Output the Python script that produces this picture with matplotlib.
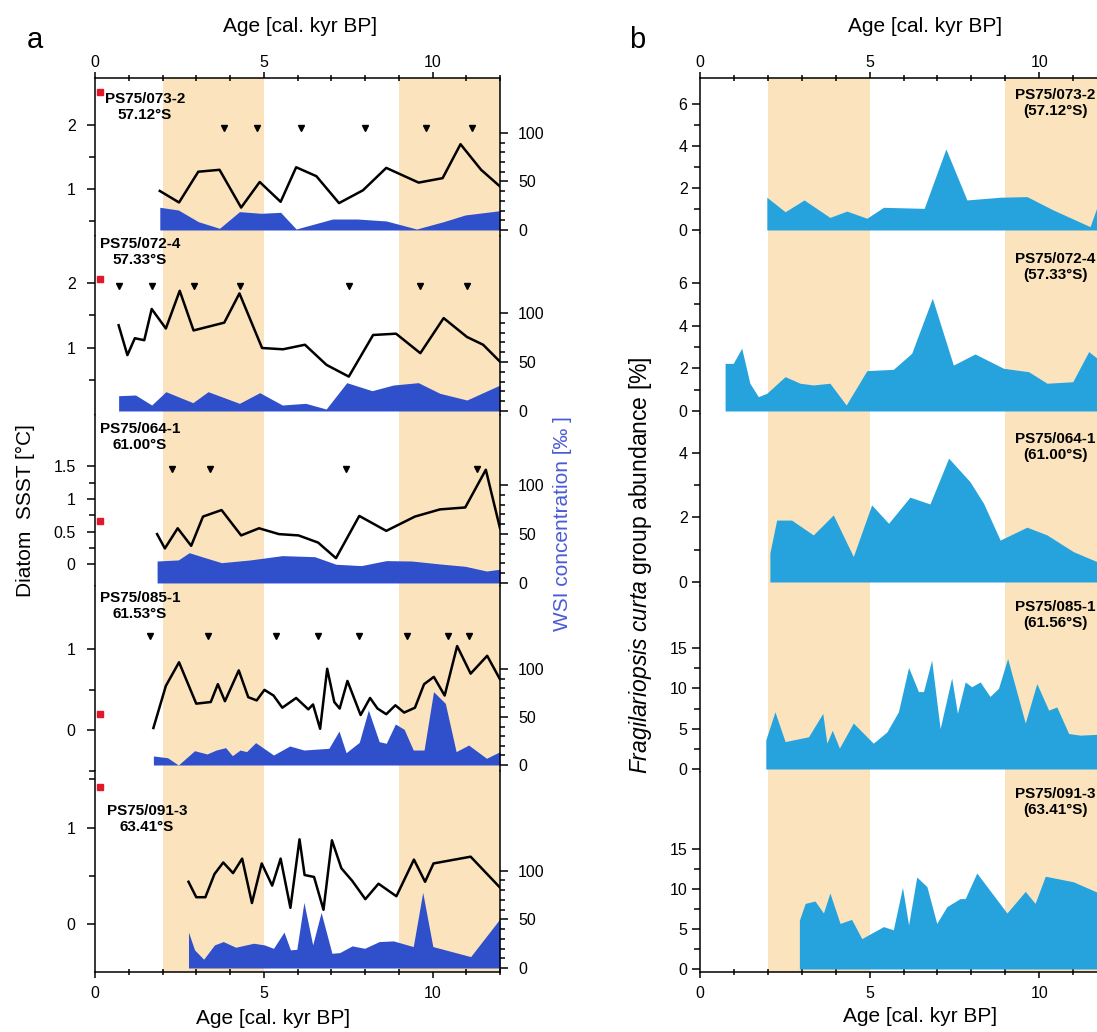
import matplotlib.pyplot as plt

plt.rcParams['font.family'] = ['Liberation Sans', 'DejaVu Sans']
plt.rcParams['mathtext.fontset'] = 'custom'
plt.rcParams['mathtext.it'] = 'Liberation Sans:italic'
plt.rcParams['mathtext.rm'] = 'Liberation Sans'

# ---- data (age in cal. kyr BP) ----
cores = ["PS75/073-2", "PS75/072-4", "PS75/064-1", "PS75/085-1", "PS75/091-3"]
lat_a = ["57.12°S", "57.33°S", "61.00°S", "61.53°S", "63.41°S"]
lat_b = ["(57.12°S)", "(57.33°S)", "(61.00°S)", "(61.56°S)", "(63.41°S)"]
bands = [(2, 5), (9, 12)]

# diatom SSST [°C]
sst_age_073 = [1.92, 2.49, 3.06, 3.69, 4.33, 4.88, 5.50, 5.96, 6.56, 7.23, 7.94, 8.63, 9.59, 10.30, 10.83, 11.44, 12.0]
sst_073 = [0.97, 0.79, 1.27, 1.30, 0.71, 1.11, 0.80, 1.34, 1.20, 0.78, 0.98, 1.33, 1.10, 1.17, 1.70, 1.30, 1.04]
sst_age_072 = [0.70, 0.96, 1.18, 1.46, 1.68, 2.10, 2.51, 2.92, 3.83, 4.28, 4.95, 5.57, 6.22, 6.86, 7.52, 8.24, 8.92, 9.64, 10.33, 11.02, 11.50, 12.0]
sst_072 = [1.35, 0.89, 1.15, 1.12, 1.60, 1.30, 1.88, 1.27, 1.39, 1.84, 1.00, 0.98, 1.05, 0.74, 0.56, 1.20, 1.22, 0.92, 1.46, 1.17, 1.05, 0.79]
sst_age_064 = [1.84, 2.07, 2.45, 2.85, 3.20, 3.75, 4.33, 4.86, 5.45, 6.03, 6.61, 7.14, 7.83, 8.63, 9.48, 10.22, 10.97, 11.58, 12.0]
sst_064 = [0.46, 0.24, 0.55, 0.28, 0.73, 0.83, 0.44, 0.55, 0.46, 0.44, 0.33, 0.09, 0.74, 0.51, 0.73, 0.84, 0.87, 1.45, 0.55]
sst_age_085 = [1.73, 2.10, 2.49, 3.00, 3.43, 3.64, 3.85, 4.26, 4.54, 4.79, 5.02, 5.29, 5.55, 5.96, 6.32, 6.46, 6.67, 6.88, 7.09, 7.25, 7.48, 7.87, 8.15, 8.37, 8.63, 8.90, 9.16, 9.48, 9.75, 10.04, 10.36, 10.73, 11.13, 11.62, 12.0]
sst_085 = [0.03, 0.55, 0.84, 0.33, 0.35, 0.57, 0.36, 0.74, 0.41, 0.37, 0.50, 0.43, 0.28, 0.40, 0.26, 0.32, 0.02, 0.76, 0.35, 0.27, 0.61, 0.19, 0.40, 0.27, 0.20, 0.31, 0.22, 0.28, 0.57, 0.66, 0.43, 1.04, 0.70, 0.92, 0.63]
sst_age_091 = [2.77, 3.00, 3.27, 3.54, 3.80, 4.09, 4.36, 4.65, 4.94, 5.25, 5.50, 5.79, 6.06, 6.21, 6.49, 6.77, 7.02, 7.30, 7.62, 8.01, 8.40, 8.93, 9.45, 9.78, 10.03, 11.13, 12.0]
sst_091 = [0.44, 0.28, 0.28, 0.52, 0.64, 0.53, 0.68, 0.22, 0.63, 0.40, 0.68, 0.17, 0.88, 0.51, 0.49, 0.15, 0.87, 0.58, 0.45, 0.26, 0.42, 0.29, 0.67, 0.44, 0.63, 0.70, 0.38]

# WSI concentration [‰]
wsi_age_073 = [1.92, 2.47, 3.06, 3.69, 4.28, 4.92, 5.50, 5.96, 7.04, 7.78, 8.63, 9.53, 10.33, 10.97, 12.0]
wsi_073 = [23.4, 20.6, 8.6, 1.7, 18.9, 17.2, 18.2, 1.0, 11.3, 11.3, 9.3, 1.0, 8.6, 15.5, 19.9]
wsi_age_072 = [0.70, 1.20, 1.68, 2.10, 2.90, 3.35, 4.28, 4.88, 5.55, 6.24, 6.85, 7.46, 8.21, 8.84, 9.58, 10.22, 11.02, 12.0]
wsi_072 = [15.6, 16.3, 6.1, 19.7, 8.5, 19.7, 7.8, 18.7, 6.1, 7.8, 2.0, 28.9, 20.7, 26.5, 28.9, 18.0, 11.2, 26.5]
wsi_age_064 = [1.84, 2.47, 2.79, 3.32, 3.75, 4.60, 5.55, 6.51, 7.14, 7.89, 8.63, 9.38, 10.22, 10.97, 11.60, 12.0]
wsi_064 = [22.4, 23.5, 30.9, 25.2, 20.7, 23.5, 27.9, 26.8, 19.1, 17.7, 22.8, 22.4, 19.4, 17.0, 12.2, 14.0]
wsi_age_085 = [1.73, 2.15, 2.47, 2.95, 3.32, 3.59, 3.87, 4.07, 4.30, 4.49, 4.76, 5.29, 5.77, 6.19, 6.93, 7.23, 7.44, 7.83, 8.10, 8.42, 8.63, 8.90, 9.16, 9.43, 9.75, 10.03, 10.38, 10.70, 11.07, 11.60, 12.0]
wsi_085 = [9.4, 7.6, 0.0, 14.9, 11.5, 15.6, 18.1, 9.7, 15.6, 13.9, 23.3, 10.4, 19.8, 15.6, 17.4, 35.4, 12.8, 23.6, 57.3, 24.3, 22.6, 42.7, 37.2, 15.6, 15.6, 76.4, 64.2, 13.9, 20.8, 7.0, 13.9]
wsi_age_091 = [2.77, 2.95, 3.22, 3.54, 3.80, 4.17, 4.70, 5.02, 5.29, 5.60, 5.79, 5.98, 6.19, 6.45, 6.70, 7.02, 7.25, 7.62, 7.99, 8.42, 8.84, 9.43, 9.71, 10.01, 11.13, 12.0]
wsi_091 = [36.8, 18.6, 9.0, 23.7, 27.1, 21.3, 25.4, 23.7, 20.2, 36.8, 18.6, 19.2, 67.3, 23.7, 57.0, 15.1, 15.8, 22.7, 20.2, 27.1, 27.8, 22.0, 77.6, 22.0, 11.7, 50.5]

# age control points (triangles) and core-top SST (red squares)
dates_073 = [3.83, 4.81, 6.10, 7.99, 9.80, 11.16]
dates_072 = [0.70, 1.70, 2.92, 4.30, 7.52, 9.64, 11.02]
dates_064 = [2.29, 3.41, 7.43, 11.32]
dates_085 = [1.62, 3.35, 5.36, 6.61, 7.83, 9.24, 10.46, 11.07]
dates_091 = []
core_top_age = 0.15
core_top_sst = [2.52, 2.06, 0.66, 0.20, 1.42]

# Fragilariopsis curta group abundance [%]
fc_age_073 = [1.97, 2.51, 3.07, 3.83, 4.33, 4.92, 5.41, 6.61, 7.25, 7.87, 8.85, 9.64, 10.42, 11.50, 11.71, 12.0]
fc_073 = [1.56, 0.87, 1.43, 0.60, 0.90, 0.56, 1.08, 1.03, 3.86, 1.43, 1.56, 1.59, 0.95, 0.16, 1.11, 1.5]
fc_age_072 = [0.74, 0.98, 1.23, 1.47, 1.72, 1.97, 2.51, 2.95, 3.34, 3.83, 4.31, 4.92, 5.70, 6.24, 6.85, 7.47, 8.11, 8.95, 9.69, 10.23, 10.99, 11.46, 11.71, 12.0]
fc_072 = [2.23, 2.23, 2.94, 1.30, 0.67, 0.83, 1.61, 1.30, 1.22, 1.30, 0.28, 1.89, 1.95, 2.70, 5.28, 2.15, 2.67, 2.00, 1.84, 1.30, 1.37, 2.78, 2.47, 2.0]
fc_age_064 = [2.06, 2.26, 2.70, 3.34, 3.93, 4.52, 5.06, 5.56, 6.19, 6.78, 7.33, 7.96, 8.36, 8.85, 9.64, 10.23, 11.01, 11.71, 12.0]
fc_064 = [0.9, 1.92, 1.92, 1.46, 2.08, 0.79, 2.39, 1.82, 2.63, 2.42, 3.84, 3.11, 2.44, 1.30, 1.70, 1.46, 0.94, 0.63, 0.5]
fc_age_085 = [1.94, 2.21, 2.51, 3.20, 3.62, 3.74, 3.90, 4.11, 4.52, 5.11, 5.51, 5.85, 6.15, 6.44, 6.59, 6.83, 7.08, 7.42, 7.59, 7.82, 8.01, 8.26, 8.55, 8.80, 9.07, 9.59, 9.93, 10.28, 10.52, 10.87, 11.21, 11.71, 12.0]
fc_085 = [3.6, 7.1, 3.4, 4.0, 6.9, 3.2, 4.8, 2.6, 5.7, 3.2, 4.6, 7.1, 12.6, 9.6, 9.6, 13.5, 5.0, 11.3, 6.9, 10.8, 10.2, 10.8, 9.0, 10.0, 13.7, 5.7, 10.6, 7.3, 7.7, 4.4, 4.2, 4.3, 4.5]
fc_age_091 = [2.93, 3.10, 3.39, 3.64, 3.83, 4.13, 4.47, 4.77, 5.41, 5.70, 5.97, 6.15, 6.39, 6.69, 6.98, 7.28, 7.67, 7.82, 8.16, 9.05, 9.59, 9.88, 10.18, 11.01, 11.71, 12.0]
fc_091 = [6.1, 8.2, 8.5, 7.0, 9.5, 5.7, 6.2, 3.8, 5.3, 4.9, 10.2, 5.5, 11.5, 10.3, 5.7, 7.8, 8.8, 8.8, 12.0, 7.0, 9.7, 8.2, 11.6, 10.9, 9.6, 9.0]

sst_age = [sst_age_073, sst_age_072, sst_age_064, sst_age_085, sst_age_091]
sst = [sst_073, sst_072, sst_064, sst_085, sst_091]
wsi_age = [wsi_age_073, wsi_age_072, wsi_age_064, wsi_age_085, wsi_age_091]
wsi = [wsi_073, wsi_072, wsi_064, wsi_085, wsi_091]
dates = [dates_073, dates_072, dates_064, dates_085, dates_091]
fc_age = [fc_age_073, fc_age_072, fc_age_064, fc_age_085, fc_age_091]
fc = [fc_073, fc_072, fc_064, fc_085, fc_091]

# ---- layout (pixels) ----
W, H = 1097, 1032
ORANGE = '#fbe4bd'
BLUE = '#2f4fcb'
CYAN = '#26a3dd'
fig = plt.figure(figsize=(W / 100, H / 100), dpi=100)


def box(x0, x1, y0, y1):
    return [x0 / W, 1 - y1 / H, (x1 - x0) / W, (y1 - y0) / H]


def ftext(x, y, s, **kw):
    fig.text(x / W, 1 - y / H, s, **kw)


rows_a = [(78, 236), (236, 415), (415, 586), (586, 771), (771, 972)]
sst_lim = [(0.266, 2.734), (-0.031, 2.723), (-0.338, 2.292), (-0.476, 1.780), (-0.495, 1.588)]
wsi_lim = [(-6.2, 156.7), (-4.1, 178.6), (-3.1, 171.4), (-6.25, 186.5), (-4.1, 202.1)]
tri_y = [1.96, 1.95, 1.46, 1.16, 0]
sst_major = [[1, 2], [1, 2], [0, 0.5, 1, 1.5], [0, 1], [0, 1]]
sst_labels = [['1', '2'], ['1', '2'], ['0', '0.5', '1', '1.5'], ['0', '1'], ['0', '1']]
sst_minor = [[0.5, 1.5], [0.5, 1.5], [0.25, 0.75, 1.25], [-0.5, 0.5], [0.5, 1.5]]
label_a_xy = [(145, 107), (140, 252), (140, 437), (140, 606), (147, 819)]

rows_b = [(78, 233), (233, 414), (414, 586), (586, 772), (772, 972)]
fc_lim = [(-0.143, 7.238), (-0.141, 8.337), (-0.124, 5.209), (-0.372, 22.70), (-0.375, 24.625)]
fc_major = [[0, 2, 4, 6], [0, 2, 4, 6], [0, 2, 4], [0, 5, 10, 15], [0, 5, 10, 15]]
fc_minor = [[1, 3, 5], [1, 3, 5], [1, 3], [2.5, 7.5, 12.5], [2.5, 7.5, 12.5]]
label_b_y = [103, 267, 447, 615, 802]

LW = 1.1
TK = dict(width=LW, labelsize=11.5)


def style_x(ax, i):
    ax.set_xlim(0, 12)
    ax.set_xticks([0, 5, 10])
    ax.set_xticks(range(0, 13), minor=True)
    ax.tick_params(axis='x', which='major', direction='out', length=4,
                   pad=(1.5 if i == 0 else 6), **TK)
    ax.tick_params(axis='x', which='minor', direction='inout', length=4, width=LW)
    ax.tick_params(axis='x', which='both', top=(i == 0), bottom=(i == 4),
                   labeltop=(i == 0), labelbottom=(i == 4))
    for s in ['top', 'bottom', 'left', 'right']:
        ax.spines[s].set_linewidth(LW)
    ax.spines['top'].set_visible(i == 0)
    ax.spines['bottom'].set_visible(i == 4)
    for b0, b1 in bands:
        ax.axvspan(b0, b1, color=ORANGE, lw=0, zorder=0)


# ---- panel a ----
for i in range(5):
    ax = fig.add_axes(box(95, 500, *rows_a[i]))
    style_x(ax, i)
    ax.set_ylim(*sst_lim[i])
    ax.spines['right'].set_visible(False)
    ax.set_yticks(sst_major[i], labels=sst_labels[i])
    ax.set_yticks(sst_minor[i], minor=True)
    ax.tick_params(axis='y', which='major', direction='out', length=6, pad=8, **TK)
    ax.tick_params(axis='y', which='minor', direction='out', length=4, width=LW)
    ax.plot(sst_age[i], sst[i], color='black', lw=1.8, zorder=3)
    if dates[i]:
        ax.plot(dates[i], [tri_y[i]] * len(dates[i]), 'v', color='black', ms=4.5, zorder=4)
    ax.plot([core_top_age], [core_top_sst[i]], 's', color='#e3172b', ms=5, clip_on=False, zorder=5)

    ax2 = ax.twinx()
    ax2.set_ylim(*wsi_lim[i])
    ax2.fill_between(wsi_age[i], wsi[i], 0, color=BLUE, lw=0)
    for s in ['top', 'bottom', 'left']:
        ax2.spines[s].set_visible(False)
    ax2.spines['right'].set_linewidth(LW)
    ax2.set_yticks([0, 50, 100])
    ax2.set_yticks([10, 20, 30, 40, 60, 70, 80, 90], minor=True)
    ax2.tick_params(axis='y', which='major', direction='out', length=6, pad=7, **TK)
    ax2.tick_params(axis='y', which='minor', direction='out', length=3.5, width=LW)

    ftext(*label_a_xy[i], cores[i] + "\n" + lat_a[i], ha='center', va='center',
          fontsize=11, fontweight='bold', linespacing=1.15)

# ---- panel b ----
for i in range(5):
    ax = fig.add_axes(box(700, 1107, *rows_b[i]))
    style_x(ax, i)
    ax.set_ylim(*fc_lim[i])
    ax.spines['right'].set_visible(False)
    ax.set_yticks(fc_major[i])
    ax.set_yticks(fc_minor[i], minor=True)
    ax.tick_params(axis='y', which='major', direction='out', length=6, pad=3, **TK)
    ax.tick_params(axis='y', which='minor', direction='out', length=4, width=LW)
    ax.fill_between(fc_age[i], fc[i], 0, color=CYAN, lw=0, zorder=2)
    ftext(1055, label_b_y[i], cores[i] + "\n" + lat_b[i], ha='center', va='center',
          fontsize=11, fontweight='bold', linespacing=1.15)

# ---- titles and axis labels ----
ftext(35, 40, "a", fontsize=21, ha='center', va='center')
ftext(637, 40, "b", fontsize=21, ha='center', va='center')
ftext(300, 26, "Age [cal. kyr BP]", fontsize=15, ha='center', va='center')
ftext(925, 27, "Age [cal. kyr BP]", fontsize=15, ha='center', va='center')
ftext(273, 1018, "Age [cal. kyr BP]", fontsize=15, ha='center', va='center')
ftext(920, 1017, "Age [cal. kyr BP]", fontsize=15, ha='center', va='center')
ftext(25, 511, "Diatom  SSST [°C]", fontsize=15, rotation=90, ha='center', va='center')
ftext(563, 524, "WSI concentration [‰ ]", fontsize=15, rotation=90, ha='center', va='center',
      color='#4a5bd6')
ftext(640, 565, r"$\it{Fragilariopsis\ curta}$ group abundance [%]", fontsize=16.5,
      rotation=90, ha='center', va='center')

fig.savefig("out.png", dpi=100)
